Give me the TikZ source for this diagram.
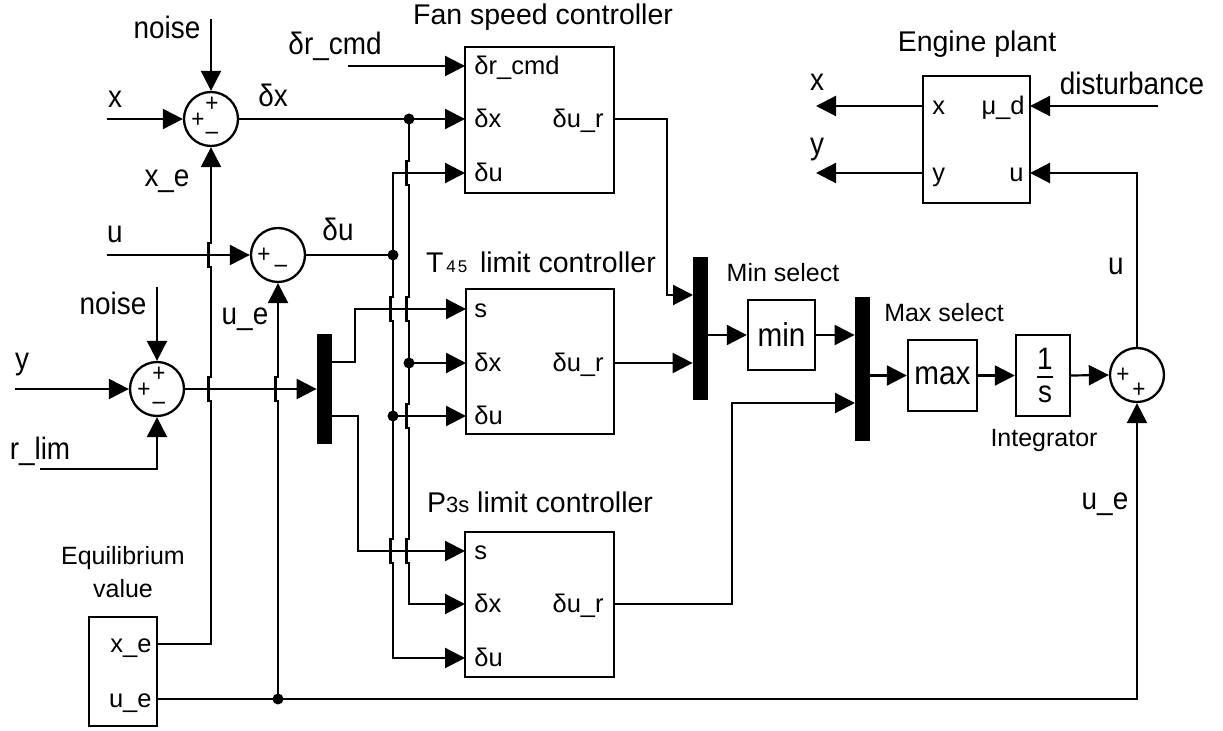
\documentclass[tikz,border=0pt]{standalone}
\usepackage{fontspec}
\setmainfont{Liberation Sans}
\newfontfamily\cfont{Liberation Sans}[FakeStretch=0.9]
\usetikzlibrary{arrows.meta}
\newcommand\hpd[2]{-- ({#1},{#2-12}) -- ({#1-2.5},{#2-12}) -- ({#1-2.5},{#2+12}) -- ({#1},{#2+12})}
\newcommand\hpu[2]{-- ({#1},{#2+12}) -- ({#1-2.5},{#2+12}) -- ({#1-2.5},{#2-12}) -- ({#1},{#2-12})}
\begin{document}
\begin{tikzpicture}[x=0.5pt,y=-0.5pt,
  blk/.style={draw,line width=1.2pt,inner sep=0pt},
  sumc/.style={draw,circle,line width=1.15pt,minimum size=27pt,inner sep=0pt},
  bar/.style={fill=black,inner sep=0pt,minimum width=7.5pt},
  jdot/.style={circle,fill=black,inner sep=0pt,minimum size=5.5pt},
  wire/.style={line width=1.1pt},
  arr/.style={wire,-{Triangle[length=10pt,width=10pt]}},
  lbl/.style={font=\cfont\fontsize{15.5}{18}\selectfont,inner sep=0pt,anchor=base},
  ttl/.style={font=\fontsize{14.25}{17}\selectfont,inner sep=0pt,anchor=base},
  slbl/.style={font=\fontsize{12.5}{15}\selectfont,inner sep=0pt,anchor=base},
  pl/.style={font=\fontsize{12.75}{15}\selectfont,inner sep=0pt,anchor=base west},
  pr/.style={font=\fontsize{12.75}{15}\selectfont,inner sep=0pt,anchor=base east},
  sgn/.style={font=\cfont\fontsize{12.5}{13}\selectfont,inner sep=0pt,text height=6pt,text depth=0pt}]
\useasboundingbox (0,0) rectangle (1223,731);

% ---- blocks ----
\node[blk,minimum width=74.5pt,minimum height=73pt] (fan) at (539.5,120) {};
\node[blk,minimum width=74pt,minimum height=72.5pt] (tfl) at (540,361.5) {};
\node[blk,minimum width=74.5pt,minimum height=72.5pt] (pfl) at (539.5,604.5) {};
\node[blk,minimum width=53.5pt,minimum height=63.5pt] (eng) at (976.5,139.5) {};
\node[blk,minimum width=34pt,minimum height=54.5pt] (eqv) at (123,671.5) {};
\node[blk,minimum width=33.5pt,minimum height=35pt,font=\cfont\fontsize{16.5}{18}\selectfont] (minb) at (781.5,335) {min};
\node[blk,minimum width=34.5pt,minimum height=35.5pt,font=\cfont\fontsize{16.5}{18}\selectfont] (maxb) at (942.5,375.5) {max};
\node[blk,minimum width=27pt,minimum height=40.5pt] (intg) at (1043,375.5) {};
\node[bar,minimum height=71.5pt] (minbar) at (700.5,328.5) {};
\node[bar,minimum height=72pt] (maxbar) at (862.5,369) {};
\node[bar,minimum height=55pt] (dmx) at (324.5,389) {};
\node[sumc] (s1) at (211,119) {};
\node[sumc] (s2) at (278,255) {};
\node[sumc] (s4) at (157,389) {};
\node[sumc] (s3) at (1137,375) {};

% ---- port coordinates ----
\coordinate (fanr) at (465,66);  \coordinate (fanx) at (465,119);
\coordinate (fanu) at (465,173); \coordinate (fano) at (614,119);
\coordinate (tfls) at (466,309); \coordinate (tflx) at (466,363);
\coordinate (tflu) at (466,416); \coordinate (tflo) at (614,363);
\coordinate (pfls) at (465,551); \coordinate (pflx) at (465,604);
\coordinate (pflu) at (465,658); \coordinate (pflo) at (614,604);
\coordinate (engx) at (923,106); \coordinate (engd) at (1030,106);
\coordinate (engy) at (923,173); \coordinate (engu) at (1030,173);
\coordinate (eqvx) at (157,644); \coordinate (eqvu) at (157,699);
\coordinate (jx) at (409,119); \coordinate (ju) at (393,255);
\coordinate (jtx) at (409,363); \coordinate (jtu) at (393,416);
\coordinate (jue) at (278,699);
\coordinate (nz1) at (211,19); \coordinate (xin) at (107,119);
\coordinate (rin) at (348,66); \coordinate (uin) at (107,255);
\coordinate (nz2) at (157,287); \coordinate (yin) at (15,389);
\coordinate (rlim) at (40,469); \coordinate (dist) at (1158,106);
\coordinate (xout) at (816,106); \coordinate (yout) at (816,173);

% ---- port labels ----
\node[pl] at (474,75) {δr\_cmd};
\node[pl] at (474,128) {δx};
\node[pl] at (474,182) {δu};
\node[pr] at (604,128) {δu\_r};
\node[pl] at (474,318) {s};
\node[pl] at (474,372) {δx};
\node[pl] at (474,425) {δu};
\node[pr] at (604,372) {δu\_r};
\node[pl] at (474,560) {s};
\node[pl] at (474,613) {δx};
\node[pl] at (474,667) {δu};
\node[pr] at (604,613) {δu\_r};
\node[pl] at (932,115) {x};
\node[pr] at (1025,115) {μ\_d};
\node[pl] at (932,182) {y};
\node[pr] at (1024,182) {u};
\node[pr] at (152,653) {x\_e};
\node[pr] at (152,708) {u\_e};
\node[lbl] at (1045,370) {1};
\draw[wire] (1037,377) -- (1053,377);
\node[lbl] at (1045,403) {s};

% ---- sum signs ----
\node[sgn] at (198,122) {+};
\node[sgn] at (212,106) {+};
\node[sgn] at (212,134) {–};
\node[sgn] at (264,257) {+};
\node[sgn] at (281,267) {–};
\node[sgn] at (144,392) {+};
\node[sgn] at (159,376) {+};
\node[sgn] at (159,404) {–};
\node[sgn] at (1123,377) {+};
\node[sgn] at (1139,392) {+};

% ---- titles and labels ----
\node[ttl] at (543,25) {Fan speed controller};
\node[ttl] at (541,273) {T{\fontsize{8.5}{10}\selectfont\,4\kern1pt5}\, limit controller};
\node[ttl] at (540,513) {P{\fontsize{11}{12}\selectfont 3s} limit controller};
\node[ttl] at (977,52) {Engine plant};
\node[lbl] at (167,39) {noise};
\node[lbl] at (335,55) {δr\_cmd};
\node[lbl] at (115,108) {x};
\node[lbl] at (273,107) {δx};
\node[lbl] at (167,187) {x\_e};
\node[lbl] at (115,243) {u};
\node[lbl] at (338,241) {δu};
\node[lbl] at (113,315) {noise};
\node[lbl] at (22,370) {y};
\node[lbl] at (245,325) {u\_e};
\node[lbl] at (40,460) {r\_lim};
\node[lbl] at (1132,95) {disturbance};
\node[lbl] at (817,91) {x};
\node[lbl] at (817,155) {y};
\node[lbl] at (1116,275) {u};
\node[lbl] at (1105,510) {u\_e};
\node[slbl] at (783,282) {Min select};
\node[slbl] at (944,322) {Max select};
\node[slbl] at (1044,447) {Integrator};
\node[slbl] at (123,565) {Equilibrium};
\node[slbl] at (123,598) {value};

% ---- connectors ----
\draw[arr] (nz1) -- (s1.north);
\draw[arr] (xin) -- (s1.west);
\draw[arr] (rin) -- (fanr);
\draw[arr] (s1.east) -- (fanx);
\draw[arr] (eqvx) -- (211,644) \hpu{211}{389} \hpu{211}{255} -- (s1.south);
\draw[arr] (uin) -- (s2.west);
\draw[wire] (s2.east) -- (ju);
\draw[arr] (ju) -- (ju |- fanu) -- (fanu);
\draw[arr] (ju) \hpd{393}{309} \hpd{393}{551} -- (ju |- pflu) -- (pflu);
\draw[arr] (jtu) -- (tflu);
\draw[arr] (jx) \hpd{409}{173} \hpd{409}{309} \hpd{409}{416} \hpd{409}{551} -- (jx |- pflx) -- (pflx);
\draw[arr] (jtx) -- (tflx);
\draw[arr] (nz2) -- (s4.north);
\draw[arr] (yin) -- (s4.west);
\draw[arr] (rlim) -- (rlim -| s4.south) -- (s4.south);
\draw[arr] (s4.east) -- (dmx.west);
\draw[arr] (jue) \hpu{278}{389} -- (s2.south);
\draw[arr] (332,362) -- (355,362) -- (355,309) -- (tfls);
\draw[arr] (332,416) -- (358,416) -- (358,551) -- (pfls);
\draw[arr] (fano) -- (667,119) -- (667,295) -- (693,295);
\draw[arr] (tflo) -- (tflo -| minbar.west);
\draw[arr] (minbar.east |- minb.west) -- (minb.west);
\draw[arr] (minb.east) -- (minb.east -| maxbar.west);
\draw[arr] (pflo) -- (732,604) -- (732,403) -- (855,403);
\draw[arr] (maxbar.east |- maxb.west) -- (maxb.west);
\draw[arr] (maxb.east) -- (intg.west);
\draw[arr] (intg.east) -- (s3.west);
\draw[arr] (s3.north) -- (s3.north |- engu) -- (engu);
\draw[arr] (eqvu) -- (eqvu -| s3.south) -- (s3.south);
\draw[arr] (engx) -- (xout);
\draw[arr] (engy) -- (yout);
\draw[arr] (dist) -- (engd);

% ---- junction dots ----
\node[jdot] at (jx) {};
\node[jdot] at (ju) {};
\node[jdot] at (jtx) {};
\node[jdot] at (jtu) {};
\node[jdot] at (jue) {};
\end{tikzpicture}
\end{document}
